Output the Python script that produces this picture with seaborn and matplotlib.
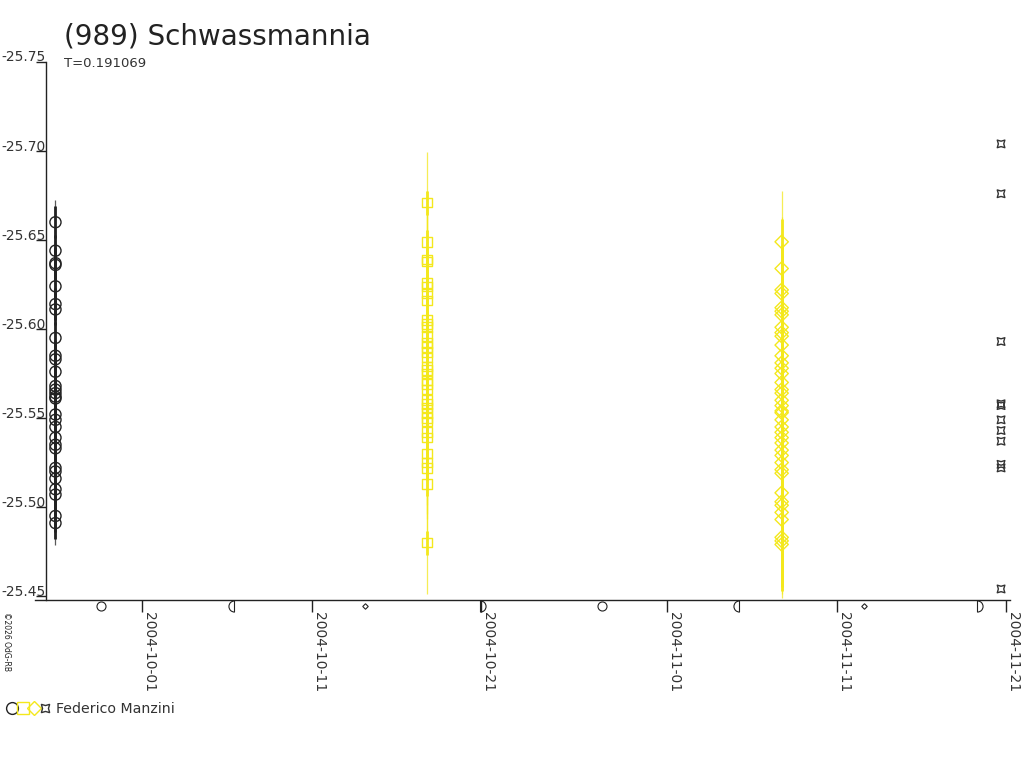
import matplotlib
matplotlib.use("Agg")
import matplotlib.pyplot as plt
import matplotlib.dates as mdates
import matplotlib.transforms as mtransforms
from matplotlib.path import Path
from matplotlib.legend_handler import HandlerTuple
from matplotlib.lines import Line2D
import pandas as pd
import seaborn as sns

# observation nights (one column of points per night)
night_black = "2004-09-25 21:00"
night_square = "2004-10-17 19:25"
night_diamond = "2004-11-07 17:45"
night_star = "2004-11-20 16:35"

mag_black = [-25.660, -25.644, -25.637, -25.636, -25.624, -25.614, -25.611,
             -25.595, -25.585, -25.583, -25.576, -25.568, -25.566, -25.564,
             -25.562, -25.561, -25.552, -25.549, -25.545, -25.539, -25.535,
             -25.533, -25.522, -25.520, -25.516, -25.510, -25.507, -25.495,
             -25.491]
mag_square = [-25.671, -25.649, -25.639, -25.638, -25.626, -25.624, -25.620,
              -25.616, -25.605, -25.603, -25.601, -25.596, -25.592, -25.590,
              -25.587, -25.584, -25.579, -25.577, -25.575, -25.571, -25.569,
              -25.566, -25.560, -25.558, -25.556, -25.553, -25.550, -25.548,
              -25.542, -25.539, -25.530, -25.525, -25.522, -25.513, -25.480]
mag_diamond = [-25.649, -25.634, -25.622, -25.620, -25.612, -25.610, -25.608,
               -25.601, -25.598, -25.596, -25.591, -25.585, -25.581, -25.578,
               -25.575, -25.570, -25.566, -25.564, -25.560, -25.557, -25.554,
               -25.553, -25.549, -25.545, -25.542, -25.539, -25.536, -25.532,
               -25.529, -25.525, -25.521, -25.519, -25.508, -25.503, -25.501,
               -25.497, -25.493, -25.483, -25.481, -25.479]
mag_star = [-25.704, -25.676, -25.593, -25.558, -25.557, -25.549, -25.543,
            -25.537, -25.524, -25.522, -25.454]

# (above, below) error extents: wide thin bar and narrow thick bar
err_black = [(0.0124, 0.0124), (0.009, 0.009)]
err_square = [(0.0287, 0.0287), (0.0067, 0.0067)]
err_diamond = [(0.0287, 0.0298), (0.013, 0.026)]

# moon phases shown under the time axis
moon_full = ["2004-09-28 13:09", "2004-10-28 03:07"]
moon_last = ["2004-10-06 10:12", "2004-11-05 05:53"]
moon_new = ["2004-10-14 02:48", "2004-11-12 14:27"]
moon_first = ["2004-10-20 21:59", "2004-11-19 05:50"]

tick_dates = ["2004-10-01", "2004-10-11", "2004-10-21",
              "2004-11-01", "2004-11-11", "2004-11-21"]
y_ticks = [-25.75, -25.70, -25.65, -25.60, -25.55, -25.50, -25.45]

title = "(989) Schwassmannia"
subtitle = "T=0.191069"
observer = "Federico Manzini"

BLACK = "#222222"
YELLOW = "#f4e81c"
STAR = "#333333"

sns.set_style("ticks")
plt.rcParams["font.family"] = ["DejaVu Sans"]

fig = plt.figure(figsize=(10.24, 7.68), dpi=100)
ax = fig.add_axes([35 / 1024, 168 / 768, 975 / 1024, 538 / 768])

for side in ["top", "right"]:
    ax.spines[side].set_visible(False)
ax.spines["left"].set_position(("axes", 11 / 975))
for side in ["left", "bottom"]:
    ax.spines[side].set_color(BLACK)
    ax.spines[side].set_linewidth(1)

groups = [
    (night_black, mag_black, "o", BLACK, 64, err_black),
    (night_square, mag_square, "s", YELLOW, 48, err_square),
    (night_diamond, mag_diamond, "D", YELLOW, 46, err_diamond),
    (night_star, mag_star, (4, 1, 45), STAR, 60, None),
]

handles = []
for night, mags, marker, color, size, errs in groups:
    df = pd.DataFrame({"date": pd.to_datetime([night] * len(mags)), "mag": mags})
    if errs is not None:
        (t_up, t_dn), (k_up, k_dn) = errs
        ax.errorbar(df["date"], df["mag"],
                    yerr=[[t_up] * len(mags), [t_dn] * len(mags)],
                    fmt="none", ecolor=color, elinewidth=0.9, capsize=0,
                    alpha=0.75, zorder=1)
        ax.errorbar(df["date"], df["mag"],
                    yerr=[[k_up] * len(mags), [k_dn] * len(mags)],
                    fmt="none", ecolor=color, elinewidth=2.0, capsize=0,
                    zorder=2)
    sns.scatterplot(data=df, x="date", y="mag", marker=marker, s=size,
                    facecolor="none", edgecolor=color, linewidth=1.0,
                    ax=ax, zorder=3)
    handles.append(Line2D([], [], marker=marker, linestyle="none",
                          markersize=8.5 if marker != "D" else 7,
                          markerfacecolor="none", markeredgecolor=color,
                          markeredgewidth=1.0))

# moon phase symbols just under the x axis
moon_y = -0.012
mtrans = ax.get_xaxis_transform()
half_left = Path.wedge(90, 270)
half_right = Path.wedge(-90, 90)
for dates, marker, ms in [(moon_full, "o", 6.5), (moon_last, half_left, 8),
                          (moon_new, "D", 2.8), (moon_first, half_right, 8)]:
    d = pd.to_datetime(dates)
    ax.plot(d, [moon_y] * len(d), transform=mtrans, linestyle="none",
            marker=marker, markersize=ms, markerfacecolor="none",
            markeredgecolor=BLACK, markeredgewidth=0.8, clip_on=False)

ax.set_xlim(pd.Timestamp("2004-09-24 16:00"), pd.Timestamp("2004-11-21 05:15"))
ax.set_ylim(-25.4478, -25.75)

ax.set_xticks(pd.to_datetime(tick_dates))
ax.xaxis.set_major_formatter(mdates.DateFormatter("%Y-%m-%d"))
ax.set_yticks(y_ticks)
ax.set_yticklabels([f"{v:.2f}" for v in y_ticks])

ax.tick_params(axis="x", direction="out", length=8.5, width=1, color=BLACK,
               labelsize=10, labelcolor="#333333", pad=0)
ax.tick_params(axis="y", direction="out", length=7.5, width=1, color=BLACK,
               labelsize=10, labelcolor="#333333", pad=-7.5)
for lab in ax.get_xticklabels():
    lab.set_rotation(270)
    lab.set_ha("left")
    lab.set_va("top")
nudge = mtransforms.ScaledTranslation(0, -2.5 / 100, fig.dpi_scale_trans)
for lab in ax.get_yticklabels():
    lab.set_va("bottom")
    lab.set_transform(lab.get_transform() + nudge)

ax.set_xlabel("")
ax.set_ylabel("")
ax.grid(False)

fig.text(64 / 1024, 1 - 45 / 768, title, fontsize=20, color=BLACK,
         ha="left", va="baseline")
fig.text(64 / 1024, 1 - 67 / 768, subtitle, fontsize=9.5, color="#333333",
         ha="left", va="baseline")
fig.text(2 / 1024, 1 - 612 / 768, "\u00a92026 OdG-RB", fontsize=5.5,
         rotation=270, color=BLACK, ha="left", va="top")

ax.legend([tuple(handles)], [observer],
          handler_map={tuple: HandlerTuple(ndivide=None, pad=0.1)},
          loc="lower left", bbox_to_anchor=(-3 / 1024, 1 - 726 / 768),
          bbox_transform=fig.transFigure, frameon=False, fontsize=10.2,
          handlelength=3.0, handletextpad=0.45, borderpad=0.2,
          labelcolor="#333333")

fig.savefig("out.png", dpi=100)
